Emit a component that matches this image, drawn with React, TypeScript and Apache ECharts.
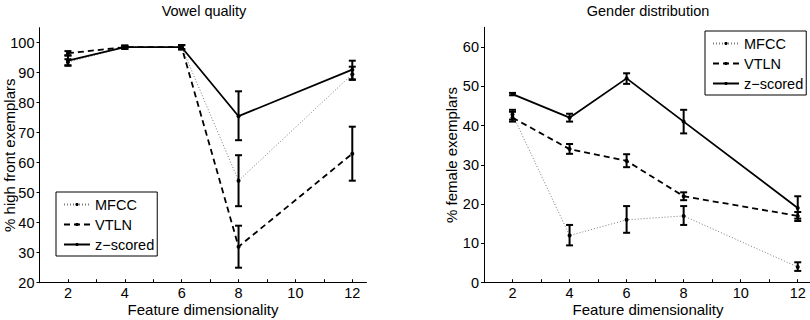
import React, { useEffect, useRef } from "react";
import * as echarts from "echarts";

const dims = [2, 4, 6, 8, 12];
const seriesNames = ["MFCC", "VTLN", "z−scored"];

const vowelMfcc = [93.5, 98.5, 98.5, 54, 89.5];
const vowelMfccLo = [92.5, 98, 97.8, 45.5, 87.8];
const vowelMfccHi = [94.5, 99, 99.2, 62.5, 92];
const vowelVtln = [96.5, 98.5, 98.5, 32, 63];
const vowelVtlnLo = [95.8, 98, 97.8, 25, 54];
const vowelVtlnHi = [97.2, 99, 99.2, 39, 72];
const vowelZ = [94, 98.5, 98.5, 75.5, 91];
const vowelZLo = [92.3, 98, 97.8, 67.5, 87.6];
const vowelZHi = [95.7, 99, 99.2, 83.8, 94];

const genderMfcc = [42.8, 12, 16, 17, 4];
const genderMfccLo = [41.5, 9.5, 12.7, 14.7, 3];
const genderMfccHi = [44, 14.7, 19.5, 19.5, 5.2];
const genderVtln = [42, 34, 31, 22, 17];
const genderVtlnLo = [41, 32.8, 29.4, 21, 15.7];
const genderVtlnHi = [43.5, 35.3, 32.7, 23, 18];
const genderZ = [48, 42, 52, 41, 19];
const genderZLo = [47.7, 41, 50.6, 38, 16.3];
const genderZHi = [48.3, 43, 53.3, 44, 22];

const xTicks = [2, 3, 4, 5, 6, 7, 8, 9, 10, 11, 12];
const xLabels = [2, 4, 6, 8, 10, 12];
const vowelYTicks = [20, 30, 40, 50, 60, 70, 80, 90, 100];
const genderYTicks = [0, 10, 20, 30, 40, 50, 60];

const FONT = "Liberation Sans, Arial, Helvetica, sans-serif";

const lineStyles: any[] = [
  { color: "#7a7a7a", width: 1, type: [1, 2] },
  { color: "#000", width: 1.8, type: [6, 4] },
  { color: "#000", width: 1.8, type: "solid" },
];

function pairs(vals: number[]) {
  return dims.map((d, i) => [d, vals[i]]);
}
function errs(lo: number[], hi: number[]) {
  return dims.map((d, i) => [d, lo[i], hi[i]]);
}

const renderErr = (params: any, api: any) => {
  const x = api.value(0);
  const pLo = api.coord([x, api.value(1)]);
  const pHi = api.coord([x, api.value(2)]);
  const w = 3.5;
  const st = { stroke: "#000", lineWidth: 2 };
  return {
    type: "group",
    children: [
      { type: "line", shape: { x1: pLo[0], y1: pLo[1], x2: pHi[0], y2: pHi[1] }, style: st },
      { type: "line", shape: { x1: pLo[0] - w, y1: pLo[1], x2: pLo[0] + w, y2: pLo[1] }, style: st },
      { type: "line", shape: { x1: pHi[0] - w, y1: pHi[1], x2: pHi[0] + w, y2: pHi[1] }, style: st },
    ],
  };
};

function xAxis(gridIndex: number) {
  return {
    type: "value",
    gridIndex,
    min: 1,
    max: 12.5,
    interval: 1,
    name: "Feature dimensionality",
    nameLocation: "middle",
    nameGap: 19,
    nameMoveOverlap: false,
    nameTextStyle: { fontFamily: FONT, fontSize: 15, color: "#000" },
    axisLine: { show: true, onZero: false, lineStyle: { color: "#000", width: 1 } },
    axisTick: { show: true, inside: true, length: 3.5, customValues: xTicks, lineStyle: { color: "#000" } },
    axisLabel: {
      customValues: xLabels,
      margin: 3,
      fontFamily: FONT,
      fontSize: 14.5,
      color: "#000",
    },
    splitLine: { show: false },
  };
}

function yAxis(
  gridIndex: number,
  min: number,
  max: number,
  ticks: number[],
  name: string,
  gap: number,
  moveOverlap: boolean
) {
  return {
    type: "value",
    gridIndex,
    min,
    max,
    interval: 10,
    name,
    nameLocation: "middle",
    nameGap: gap,
    nameRotate: 90,
    nameMoveOverlap: moveOverlap,
    nameTextStyle: { fontFamily: FONT, fontSize: 15, color: "#000" },
    axisLine: { show: true, onZero: false, lineStyle: { color: "#000", width: 1 } },
    axisTick: { show: true, inside: false, length: 3, customValues: ticks, lineStyle: { color: "#000" } },
    axisLabel: { customValues: ticks, margin: 5, fontFamily: FONT, fontSize: 14.5, color: "#000" },
    splitLine: { show: false },
  };
}

function lineSeries(name: string, idx: number, vals: number[], k: number) {
  return {
    type: "line",
    name,
    xAxisIndex: idx,
    yAxisIndex: idx,
    data: pairs(vals),
    symbol: "circle",
    symbolSize: 4,
    itemStyle: { color: "#000" },
    lineStyle: lineStyles[k],
    z: 3,
  };
}

function errSeries(idx: number, lo: number[], hi: number[], k: number) {
  return {
    type: "custom",
    name: "err" + idx + "_" + k,
    xAxisIndex: idx,
    yAxisIndex: idx,
    data: errs(lo, hi),
    encode: { x: 0, y: [1, 2] },
    renderItem: renderErr,
    z: 4,
  };
}

function legend(left: number, top: number) {
  return {
    data: seriesNames,
    orient: "vertical",
    left,
    top,
    itemWidth: 26,
    itemHeight: 4,
    itemGap: 5,
    padding: [5, 3, 4, 7],
    borderColor: "#000",
    borderWidth: 1,
    backgroundColor: "#fff",
    selectedMode: false,
    textStyle: { fontFamily: FONT, fontSize: 14.5, color: "#000" },
  };
}

export default function App() {
  const ref = useRef<HTMLDivElement>(null);
  useEffect(() => {
    if (!ref.current) return;
    const chart = echarts.init(ref.current, null, { renderer: "svg" });
    chart.setOption({
      animation: false,
      backgroundColor: "#fff",
      title: [
        {
          text: "Vowel quality",
          left: 204,
          top: 3,
          padding: 0,
          textAlign: "center",
          textStyle: { fontFamily: FONT, fontSize: 14.5, fontWeight: "normal", color: "#000" },
        },
        {
          text: "Gender distribution",
          left: 648,
          top: 3,
          padding: 0,
          textAlign: "center",
          textStyle: { fontFamily: FONT, fontSize: 14.5, fontWeight: "normal", color: "#000" },
        },
      ],
      legend: [legend(56, 192), legend(705, 31)],
      grid: [
        { left: 39.5, top: 27.7, width: 327, height: 255, containLabel: false, outerBoundsMode: "none" },
        { left: 484, top: 27.3, width: 328, height: 255.4, containLabel: false, outerBoundsMode: "none" },
      ],
      xAxis: [xAxis(0), xAxis(1)],
      yAxis: [
        yAxis(0, 20, 105, vowelYTicks, "% high front exemplars", 23, false),
        yAxis(1, 0, 65, genderYTicks, "% female exemplars", 22, true),
      ],
      series: [
        lineSeries("MFCC", 0, vowelMfcc, 0),
        lineSeries("VTLN", 0, vowelVtln, 1),
        lineSeries("z−scored", 0, vowelZ, 2),
        errSeries(0, vowelMfccLo, vowelMfccHi, 0),
        errSeries(0, vowelVtlnLo, vowelVtlnHi, 1),
        errSeries(0, vowelZLo, vowelZHi, 2),
        lineSeries("MFCC", 1, genderMfcc, 0),
        lineSeries("VTLN", 1, genderVtln, 1),
        lineSeries("z−scored", 1, genderZ, 2),
        errSeries(1, genderMfccLo, genderMfccHi, 0),
        errSeries(1, genderVtlnLo, genderVtlnHi, 1),
        errSeries(1, genderZLo, genderZHi, 2),
      ],
    });
    return () => chart.dispose();
  }, []);
  return (
    <div
      ref={ref}
      style={{ position: "absolute", left: 0, top: 0, width: 810, height: 320 }}
    />
  );
}
